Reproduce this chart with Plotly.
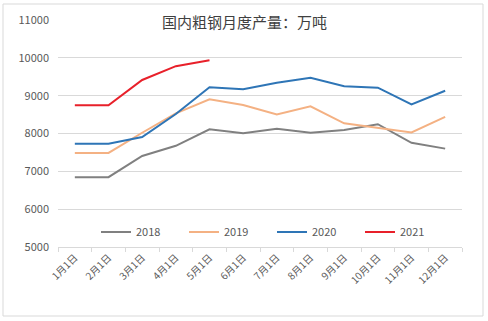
import plotly.graph_objects as go

months = ["1月1日", "2月1日", "3月1日", "4月1日", "5月1日", "6月1日",
          "7月1日", "8月1日", "9月1日", "10月1日", "11月1日", "12月1日"]
y2018 = [6845, 6845, 7405, 7675, 8110, 8005, 8125, 8020, 8090, 8245, 7755, 7600]
y2019 = [7485, 7485, 8020, 8530, 8905, 8755, 8505, 8720, 8270, 8155, 8030, 8440]
y2020 = [7730, 7730, 7905, 8515, 9225, 9170, 9340, 9475, 9250, 9210, 8770, 9130]
y2021 = [8745, 8745, 9415, 9780, 9935]
names = ["2018", "2019", "2020", "2021"]
colors = ["#808080", "#f4b183", "#2e75b6", "#e8202a"]

fig = go.Figure()
for name, ys, c in zip(names, [y2018, y2019, y2020, y2021], colors):
    fig.add_trace(go.Scatter(x=months[:len(ys)], y=ys, name=name, mode="lines",
                             line=dict(color=c, width=2)))

W, H = 488, 321
L, R, T, B = 58, 26, 20, 74
pw, ph = W - L - R, H - T - B

def px(x):
    return (x - L) / pw

def py(y):
    return (H - B - y) / ph

fig.update_layout(
    width=W, height=H,
    margin=dict(l=L, r=R, t=T, b=B),
    paper_bgcolor="white", plot_bgcolor="white",
    font=dict(family="Noto Sans CJK SC, Liberation Sans, sans-serif", color="#595959", size=11),
    showlegend=True,
    legend=dict(orientation="h", x=px(96), y=py(232), xanchor="left", yanchor="middle",
                entrywidth=43, entrywidthmode="pixels", bgcolor="rgba(0,0,0,0)",
                font=dict(size=11, color="#595959"), traceorder="normal"),
    xaxis=dict(type="category", categoryorder="array", categoryarray=months,
               tickangle=-45, tickfont=dict(size=10, color="#595959"),
               showgrid=False, showline=True, linecolor="#d9d9d9", linewidth=1,
               ticks="outside", tickson="boundaries", ticklen=4, tickcolor="#d9d9d9",
               range=[-0.5, 11.5], fixedrange=True),
    yaxis=dict(range=[5000, 11000], dtick=1000, tickformat="d", showgrid=True, gridcolor="#d9d9d9",
               gridwidth=1, zeroline=False, showline=False, ticks="",
               tickfont=dict(size=11, color="#595959"), ticklabelstandoff=8),
    annotations=[dict(text="国内粗钢月度产量：万吨", x=px(244), y=py(22), xref="paper", yref="paper",
                      showarrow=False, xanchor="center", yanchor="middle",
                      font=dict(size=15, color="#404040"))],
    shapes=[dict(type="rect", xref="paper", yref="paper", x0=px(3), x1=px(483),
                 y0=py(316), y1=py(4), line=dict(color="#d9d9d9", width=1), layer="below")],
)

fig.write_html("out.html")
